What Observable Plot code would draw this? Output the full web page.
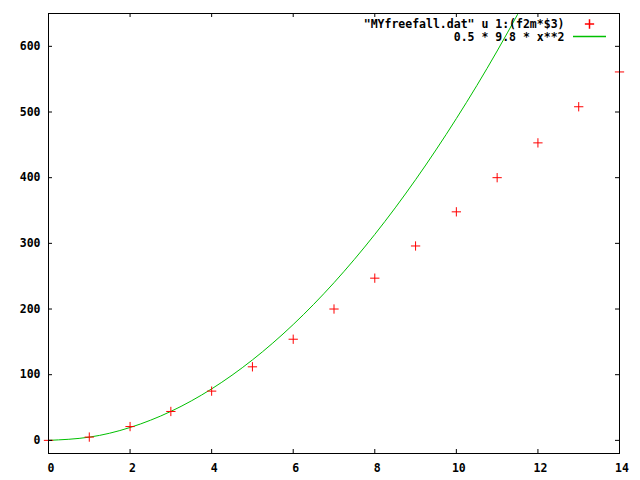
<!DOCTYPE html>
<html>
<head>
<meta charset="utf-8">
<script src="https://cdn.jsdelivr.net/npm/d3@7"></script>
<script src="https://cdn.jsdelivr.net/npm/@observablehq/plot@0.6"></script>
<style>
  html, body { margin: 0; padding: 0; background: #fff; }
</style>
</head>
<body>
<div id="chart"></div>
<script>
// Measured data (time in s, distance)
const times = [0, 1, 2, 3, 4, 5, 6, 7, 8, 9, 10, 11, 12, 13, 14];
const distances = [0, 5, 21, 44, 75, 112, 154, 200, 247, 296, 348, 400, 453, 508, 561];

// Reference curve values
const curveX = [0, 1, 2, 3, 4, 5, 6, 7, 8, 9, 10, 11, 12];
const curveY = [0, 4.9, 19.6, 44.1, 78.4, 122.5, 176.4, 240.1, 313.6, 396.9, 490, 592.9, 705.6];

// Axis ticks
const xTicks = [0, 2, 4, 6, 8, 10, 12, 14];
const yTicks = [0, 100, 200, 300, 400, 500, 600];
const xDomain = [0, 14];
const yDomain = [-20, 650];

// Legend labels
const seriesLabels = ["\"MYfreefall.dat\" u 1:(f2m*$3)", "0.5 * 9.8 * x**2"];

const W = 640, H = 480;
const mL = 48, mR = 21, mT = 13, mB = 27;
const innerW = W - mL - mR, innerH = H - mT - mB;
const tickLen = 4;

const points = times.map((t, i) => ({t, d: distances[i]}));
const curve = curveX.map((x, i) => ({x, y: curveY[i]}));

const lineSymbol = {
  draw(ctx) { ctx.moveTo(-16.5, 0); ctx.lineTo(16.5, 0); }
};

const chart = Plot.plot({
  width: W,
  height: H,
  marginLeft: mL,
  marginRight: mR,
  marginTop: mT,
  marginBottom: mB,
  style: {fontFamily: "'DejaVu Sans Mono', monospace", fontSize: "11.5px", fontWeight: "bold", background: "#fff", color: "#000"},
  x: {domain: xDomain},
  y: {domain: yDomain},
  marks: [
    Plot.line(curve, {x: "x", y: "y", stroke: "#00c000", strokeWidth: 1, curve: "natural", clip: true}),
    Plot.dot(points, {x: "t", y: "d", symbol: "plus", r: 3.1, stroke: "#ff0000", fill: "none", strokeWidth: 1}),
    Plot.frame({stroke: "#000", strokeWidth: 1}),
    // inward ticks on all four sides
    Plot.ruleX(xTicks, {x: d => d, insetTop: innerH - tickLen, stroke: "#000"}),
    Plot.ruleX(xTicks, {x: d => d, insetBottom: innerH - tickLen, stroke: "#000"}),
    Plot.ruleY(yTicks, {y: d => d, insetRight: innerW - tickLen, stroke: "#000"}),
    Plot.ruleY(yTicks, {y: d => d, insetLeft: innerW - tickLen, stroke: "#000"}),
    Plot.axisX({ticks: xTicks, tickSize: 0, tickPadding: 10, dx: 2.5, label: null, tickFormat: d => String(d)}),
    Plot.axisY({ticks: yTicks, tickSize: 0, tickPadding: 8, label: null, tickFormat: d => String(d)}),
    // legend
    Plot.text([seriesLabels[0]], {text: d => d, frameAnchor: "top-right", dx: -55, dy: 11, textAnchor: "end", lineAnchor: "middle", fill: "#000"}),
    Plot.text([seriesLabels[1]], {text: d => d, frameAnchor: "top-right", dx: -55, dy: 23.5, textAnchor: "end", lineAnchor: "middle", fill: "#000"}),
    Plot.dot([seriesLabels[0]], {frameAnchor: "top-right", dx: -30, dy: 10.5, symbol: "plus", r: 3.1, stroke: "#ff0000", fill: "none"}),
    Plot.dot([seriesLabels[1]], {frameAnchor: "top-right", dx: -30, dy: 23, symbol: lineSymbol, r: 3, stroke: "#00c000", fill: "none"})
  ]
});

document.getElementById("chart").appendChild(chart);
</script>
</body>
</html>
